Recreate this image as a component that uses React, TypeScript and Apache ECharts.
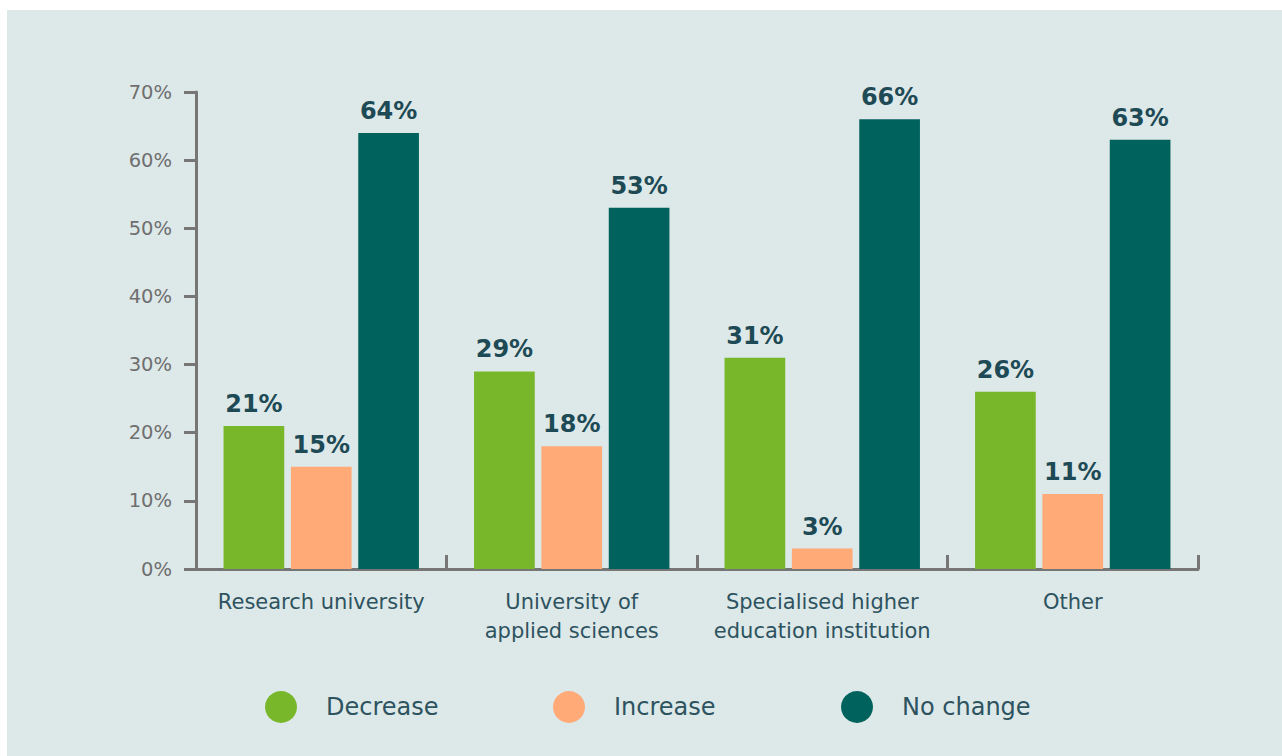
import React, { useEffect, useRef } from "react";
import * as echarts from "echarts";

const categories = [
  "Research university",
  "University of\napplied sciences",
  "Specialised higher\neducation institution",
  "Other",
];
const seriesNames = ["Decrease", "Increase", "No change"];
const decreaseValues = [21, 29, 31, 26];
const increaseValues = [15, 18, 3, 11];
const noChangeValues = [64, 53, 66, 63];
const seriesColors = ["#78b72a", "#ffaa77", "#00625c"];

const FONT = "DejaVu Sans";
const legendLefts = [258, 546, 834];

export default function App() {
  const ref = useRef<HTMLDivElement>(null);
  useEffect(() => {
    if (!ref.current) return;
    const chart = echarts.init(ref.current, undefined, { renderer: "svg" });
    const values = [decreaseValues, increaseValues, noChangeValues];
    chart.setOption({
      animation: false,
      backgroundColor: "#dde8e8",
      textStyle: { fontFamily: FONT },
      grid: { left: 189, right: 84, top: 82, bottom: 187, containLabel: false },
      legend: seriesNames.map((name, i) => ({
        left: legendLefts[i],
        top: 681,
        padding: 0,
        icon: "circle",
        itemWidth: 32,
        itemHeight: 32,
        data: [name],
        textStyle: {
          fontFamily: FONT,
          fontSize: 24,
          color: "#2e5360",
          padding: [0, 0, 0, 24],
        },
      })),
      xAxis: {
        type: "category",
        data: categories,
        axisLine: { lineStyle: { color: "#767676", width: 3 } },
        axisTick: { show: true, inside: true, length: 14, lineStyle: { color: "#767676", width: 3 } },
        axisLabel: {
          fontFamily: FONT,
          fontSize: 21,
          color: "#2e5360",
          margin: 18,
          lineHeight: 29,
          interval: 0,
        },
      },
      yAxis: {
        type: "value",
        min: 0,
        max: 70,
        interval: 10,
        splitLine: { show: false },
        axisLine: { show: true, lineStyle: { color: "#767676", width: 3 } },
        axisTick: { show: true, length: 12, lineStyle: { color: "#767676", width: 3 } },
        axisLabel: {
          fontFamily: FONT,
          fontSize: 19.5,
          color: "#6f6f6f",
          margin: 24,
          formatter: "{value}%",
        },
      },
      series: seriesNames.map((name, i) => ({
        name,
        type: "bar",
        data: values[i],
        barGap: "11%",
        barCategoryGap: "22%",
        itemStyle: { color: seriesColors[i] },
        label: {
          show: true,
          position: "top",
          distance: 10,
          formatter: "{c}%",
          fontFamily: FONT,
          fontWeight: "bold",
          fontSize: 24,
          color: "#1e4a55",
        },
      })),
    });
    return () => chart.dispose();
  }, []);
  return (
    <div style={{ position: "fixed", left: 0, top: 0, width: 1282, height: 756, background: "#ffffff" }}>
      <div ref={ref} style={{ position: "absolute", left: 7, top: 10, width: 1275, height: 746 }} />
    </div>
  );
}
